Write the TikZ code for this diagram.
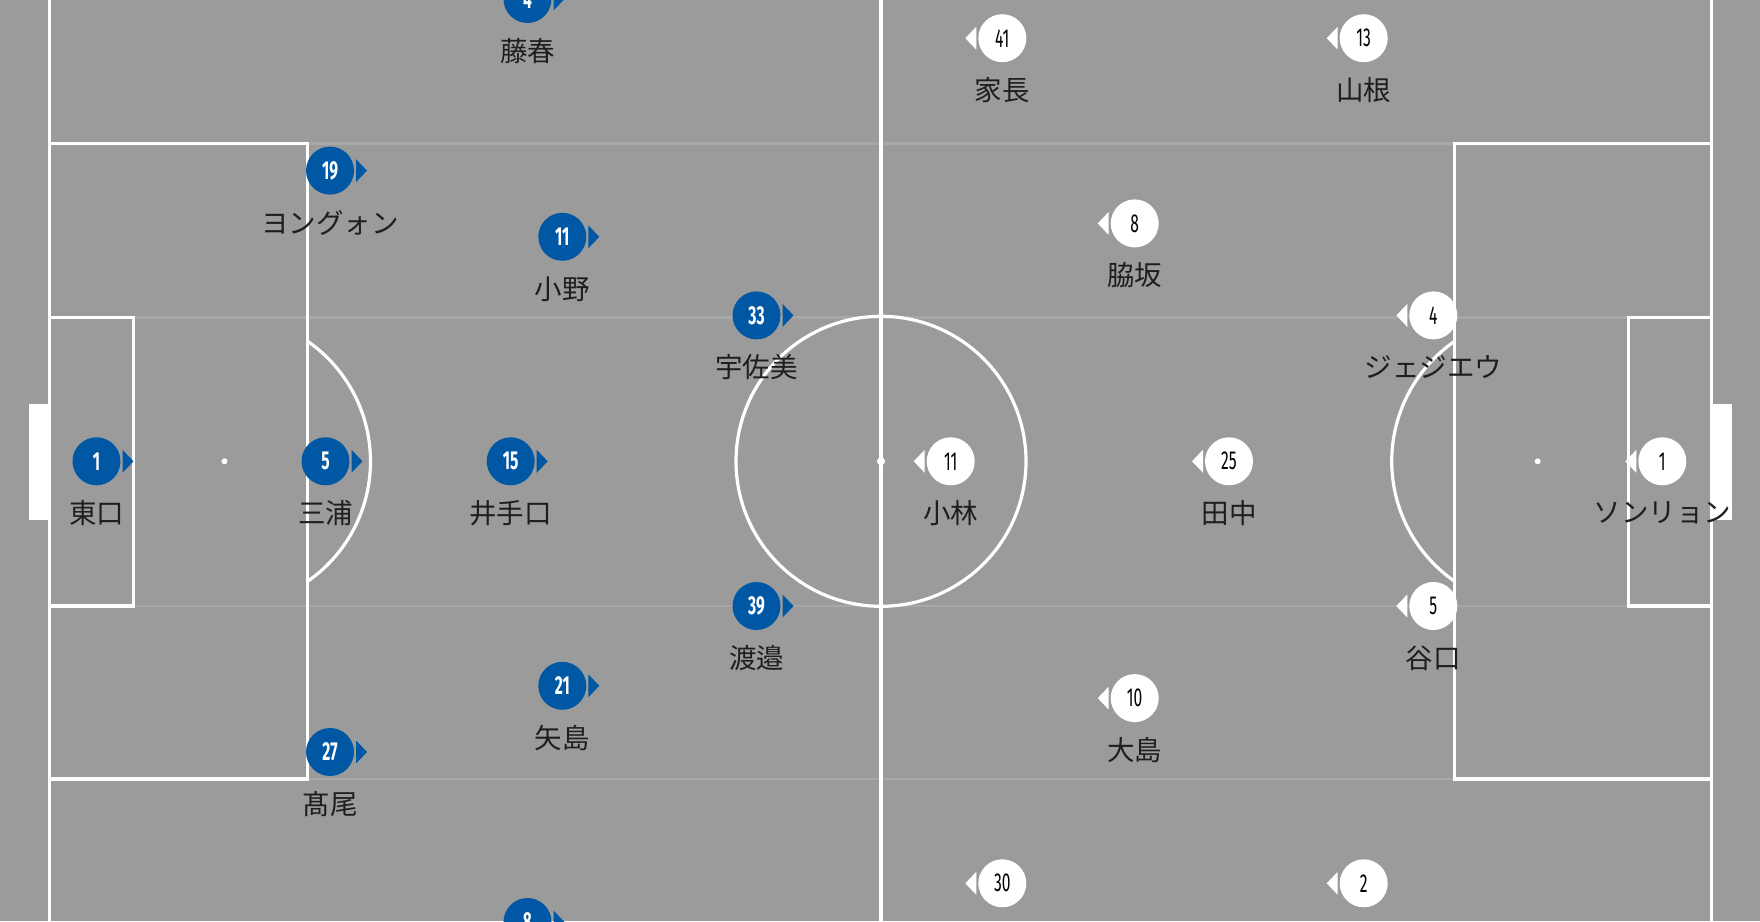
\documentclass[tikz,border=0pt]{standalone}
\usepackage{fontspec}
\newfontfamily\jpfont{Noto Sans CJK JP}
\newfontfamily\numfont[FakeStretch=0.6]{Fira Sans}

\definecolor{pitchgray}{RGB}{155,155,155}
\definecolor{stripegray}{RGB}{168,168,168}
\definecolor{homeblue}{RGB}{0,88,165}
\definecolor{labeltext}{RGB}{30,30,30}

\tikzset{
  pitchline/.style={draw=white, line width=3.2pt},
  stripe/.style={draw=stripegray, line width=2.5pt},
  homedisc/.style={circle, fill=homeblue, minimum size=48pt, inner sep=0pt, text=white,
    font=\numfont\bfseries\fontsize{26}{26}\selectfont},
  awaydisc/.style={circle, fill=white, minimum size=48pt, inner sep=0pt, text=black,
    font=\numfont\fontsize{26}{26}\selectfont},
  namelbl/.style={text=labeltext, inner sep=0pt, font=\jpfont\fontsize{27.5}{27.5}\selectfont}
}

\begin{document}
\begin{tikzpicture}[x=1pt,y=-1pt]
  \useasboundingbox (0,0) rectangle (1760,921);
  \fill[pitchgray] (0,0) rectangle (1760,921);
  % mown stripes
  \draw[stripe] (49.4,143.7) -- (1711.7,143.7);
  \draw[stripe] (49.4,317.6) -- (1711.7,317.6);
  \draw[stripe] (49.4,606) -- (1711.7,606);
  \draw[stripe] (49.4,779) -- (1711.7,779);
  % pitch markings
  \draw[pitchline] (49.4,0) -- (49.4,921);
  \draw[pitchline] (1711.7,0) -- (1711.7,921);
  \draw[pitchline] (881,0) -- (881,921);
  \draw[pitchline] (881,461.3) circle[radius=145];
  \fill[white] (881,461.3) circle[radius=4];
  \draw[pitchline] (49.4,143.7) -- (307.5,143.7) -- (307.5,779) -- (49.4,779);
  \draw[pitchline] (49.4,317.6) -- (133.6,317.6) -- (133.6,606) -- (49.4,606);
  \fill[white] (29,404) rectangle (49.4,519.7);
  \fill[white] (224.5,461.3) circle[radius=3];
  \draw[pitchline] (224.5,461.3) ++(-55.4:146) arc[start angle=-55.4, end angle=55.4, radius=146];
  \draw[pitchline] (1711.7,143.7) -- (1454.6,143.7) -- (1454.6,779) -- (1711.7,779);
  \draw[pitchline] (1711.7,317.6) -- (1628.6,317.6) -- (1628.6,606) -- (1711.7,606);
  \fill[white] (1711.7,404) rectangle (1732,519.7);
  \fill[white] (1537.7,461.3) circle[radius=3];
  \draw[pitchline] (1537.7,461.3) ++(124.6:146) arc[start angle=124.6, end angle=235.4, radius=146];

  % home side
  \node[homedisc] (h4) at (527.5,-1) {4};
  \fill[homeblue] (h4.center) ++(26,-11.5) -- ++(11,11.5) -- ++(-11,11.5) -- cycle;
  \node[namelbl] (h4n) at (527.5,51) {藤春};
  \node[homedisc] (h19) at (330,170.6) {19};
  \fill[homeblue] (h19.center) ++(26,-11.5) -- ++(11,11.5) -- ++(-11,11.5) -- cycle;
  \node[namelbl] (h19n) at (330,222.6) {ヨングォン};
  \node[homedisc] (h11) at (562.3,236.8) {11};
  \fill[homeblue] (h11.center) ++(26,-11.5) -- ++(11,11.5) -- ++(-11,11.5) -- cycle;
  \node[namelbl] (h11n) at (562.3,288.8) {小野};
  \node[homedisc] (h33) at (756.5,315.4) {33};
  \fill[homeblue] (h33.center) ++(26,-11.5) -- ++(11,11.5) -- ++(-11,11.5) -- cycle;
  \node[namelbl] (h33n) at (756.5,367.4) {宇佐美};
  \node[homedisc] (h1) at (96.5,461.3) {1};
  \fill[homeblue] (h1.center) ++(26,-11.5) -- ++(11,11.5) -- ++(-11,11.5) -- cycle;
  \node[namelbl] (h1n) at (96.5,513.3) {東口};
  \node[homedisc] (h5) at (325.5,461.3) {5};
  \fill[homeblue] (h5.center) ++(26,-11.5) -- ++(11,11.5) -- ++(-11,11.5) -- cycle;
  \node[namelbl] (h5n) at (325.5,513.3) {三浦};
  \node[homedisc] (h15) at (510.7,461.3) {15};
  \fill[homeblue] (h15.center) ++(26,-11.5) -- ++(11,11.5) -- ++(-11,11.5) -- cycle;
  \node[namelbl] (h15n) at (510.7,513.3) {井手口};
  \node[homedisc] (h39) at (756.5,606) {39};
  \fill[homeblue] (h39.center) ++(26,-11.5) -- ++(11,11.5) -- ++(-11,11.5) -- cycle;
  \node[namelbl] (h39n) at (756.5,658) {渡邉};
  \node[homedisc] (h21) at (562.3,685.8) {21};
  \fill[homeblue] (h21.center) ++(26,-11.5) -- ++(11,11.5) -- ++(-11,11.5) -- cycle;
  \node[namelbl] (h21n) at (562.3,737.8) {矢島};
  \node[homedisc] (h27) at (330,752) {27};
  \fill[homeblue] (h27.center) ++(26,-11.5) -- ++(11,11.5) -- ++(-11,11.5) -- cycle;
  \node[namelbl] (h27n) at (330,804) {髙尾};
  \node[homedisc] (h8) at (527.5,922) {8};
  \fill[homeblue] (h8.center) ++(26,-11.5) -- ++(11,11.5) -- ++(-11,11.5) -- cycle;

  % away side
  \node[awaydisc] (a41) at (1002.3,38.2) {41};
  \fill[white] (a41.center) ++(-26,-11.5) -- ++(-11,11.5) -- ++(11,11.5) -- cycle;
  \node[namelbl] (a41n) at (1002.3,90.2) {家長};
  \node[awaydisc] (a13) at (1363.7,38.2) {13};
  \fill[white] (a13.center) ++(-26,-11.5) -- ++(-11,11.5) -- ++(11,11.5) -- cycle;
  \node[namelbl] (a13n) at (1363.7,90.2) {山根};
  \node[awaydisc] (a8) at (1134.7,223.4) {8};
  \fill[white] (a8.center) ++(-26,-11.5) -- ++(-11,11.5) -- ++(11,11.5) -- cycle;
  \node[namelbl] (a8n) at (1134.7,275.4) {脇坂};
  \node[awaydisc] (a4) at (1433.3,315.4) {4};
  \fill[white] (a4.center) ++(-26,-11.5) -- ++(-11,11.5) -- ++(11,11.5) -- cycle;
  \node[namelbl] (a4n) at (1433.3,367.4) {ジェジエウ};
  \node[awaydisc] (a11) at (950.7,461.3) {11};
  \fill[white] (a11.center) ++(-26,-11.5) -- ++(-11,11.5) -- ++(11,11.5) -- cycle;
  \node[namelbl] (a11n) at (950.7,513.3) {小林};
  \node[awaydisc] (a25) at (1229,461.3) {25};
  \fill[white] (a25.center) ++(-26,-11.5) -- ++(-11,11.5) -- ++(11,11.5) -- cycle;
  \node[namelbl] (a25n) at (1229,513.3) {田中};
  \node[awaydisc] (a1) at (1662.3,461.3) {1};
  \fill[white] (a1.center) ++(-26,-11.5) -- ++(-11,11.5) -- ++(11,11.5) -- cycle;
  \node[namelbl] (a1n) at (1662.3,513.3) {ソンリョン};
  \node[awaydisc] (a5) at (1433.3,606) {5};
  \fill[white] (a5.center) ++(-26,-11.5) -- ++(-11,11.5) -- ++(11,11.5) -- cycle;
  \node[namelbl] (a5n) at (1433.3,658) {谷口};
  \node[awaydisc] (a10) at (1134.7,698.1) {10};
  \fill[white] (a10.center) ++(-26,-11.5) -- ++(-11,11.5) -- ++(11,11.5) -- cycle;
  \node[namelbl] (a10n) at (1134.7,750.1) {大島};
  \node[awaydisc] (a30) at (1002.3,883.3) {30};
  \fill[white] (a30.center) ++(-26,-11.5) -- ++(-11,11.5) -- ++(11,11.5) -- cycle;
  \node[awaydisc] (a2) at (1363.7,883.3) {2};
  \fill[white] (a2.center) ++(-26,-11.5) -- ++(-11,11.5) -- ++(11,11.5) -- cycle;
\end{tikzpicture}
\end{document}
